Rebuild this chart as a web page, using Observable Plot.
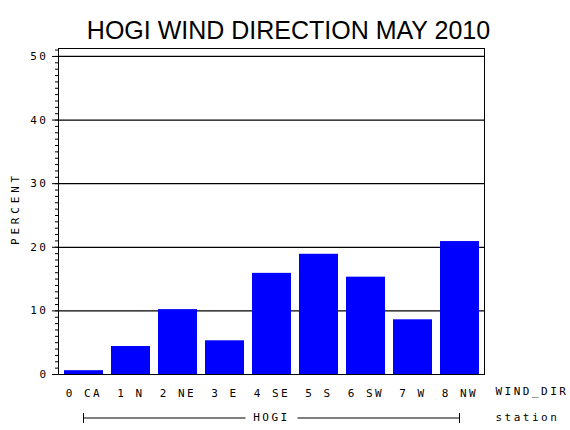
<!DOCTYPE html>
<html><head><meta charset="utf-8">
<script src="https://cdn.jsdelivr.net/npm/d3@7"></script>
<script src="https://cdn.jsdelivr.net/npm/@observablehq/plot@0.6"></script>
<style>
body{margin:0;background:#fff}
svg{display:block}
svg text{letter-spacing:2.5px}
</style>
</head><body><div id="chart"></div>
<script>
const directions = ["0 CA","1 N","2 NE","3 E","4 SE","5 S","6 SW","7 W","8 NW"];
const percents = [0.6, 4.4, 10.2, 5.3, 15.9, 18.9, 15.3, 8.6, 20.9];
const majorTicks = [0, 10, 20, 30, 40, 50];
const minorTicks = d3.range(0, 52, 1);
const gridLines = [10, 20, 30, 40, 50];
const station = "HOGI";
const titleText = "HOGI WIND DIRECTION MAY 2010";
const yLabel = "PERCENT";
const xLabel = "WIND_DIR";
const groupLabel = "station";

const data = directions.map((d, i) => ({dir: d, pct: percents[i]}));
const mono = "DejaVu Sans Mono";

const chart = Plot.plot({
  width: 570, height: 430,
  marginLeft: 58, marginRight: 86, marginTop: 48, marginBottom: 56,
  style: {fontFamily: mono, fontSize: "11px", background: "white", overflow: "visible", color: "black"},
  x: {domain: directions, paddingInner: 0.176, paddingOuter: 0.088},
  y: {domain: [0, 51.25]},
  marks: [
    Plot.ruleY(gridLines, {stroke: "black", strokeWidth: 1.3}),
    Plot.barY(data, {x: "dir", y: "pct", fill: "#0000ff"}),
    Plot.frame({stroke: "black", strokeWidth: 1}),
    Plot.axisY(minorTicks, {tickSize: 3, tickFormat: () => "", label: null, strokeOpacity: 1}),
    Plot.axisY(majorTicks, {tickSize: 6, tickPadding: 4, label: null, strokeOpacity: 1, fill: "black"}),
    Plot.axisX({tickSize: 0, tickPadding: 15, label: null, fill: "black"}),
    Plot.text([titleText], {text: d => d, frameAnchor: "top", dx: 17, dy: -27, fontSize: 25, fontFamily: "Liberation Sans", fill: "black"}),
    Plot.text([yLabel], {text: d => d, frameAnchor: "left", textAnchor: "middle", dx: -43, dy: -3, rotate: -90, fill: "black"}),
    Plot.text([xLabel], {text: d => d, frameAnchor: "bottom-right", dx: 11, dy: 20, textAnchor: "start", fill: "black"}),
    Plot.text([groupLabel], {text: d => d, frameAnchor: "bottom-right", dx: 11, dy: 46, textAnchor: "start", fill: "black"}),
    Plot.text([station], {text: d => d, frameAnchor: "bottom", dy: 46, fill: "black"})
  ]
});

// bracket line for the station group, positioned with Plot's own scales
const xs = chart.scale("x"), ys = chart.scale("y");
const x0 = xs.apply(directions[0]) + xs.bandwidth / 2;
const x1 = xs.apply(directions[directions.length - 1]) + xs.bandwidth / 2;
const yb = ys.apply(0) + 44;
const cx = (x0 + x1) / 2;
const svg = d3.select(chart);
const g = svg.append("g").attr("stroke", "black").attr("stroke-width", 1);
g.append("line").attr("x1", x0).attr("x2", cx - 26).attr("y1", yb).attr("y2", yb);
g.append("line").attr("x1", cx + 26).attr("x2", x1).attr("y1", yb).attr("y2", yb);
g.append("line").attr("x1", x0).attr("x2", x0).attr("y1", yb - 5).attr("y2", yb + 5);
g.append("line").attr("x1", x1).attr("x2", x1).attr("y1", yb - 5).attr("y2", yb + 5);

svg.selectAll("text").filter(function() { return this.textContent === titleText; }).style("letter-spacing", "0px");
svg.selectAll("text").filter(function() { return this.textContent === yLabel; }).style("letter-spacing", "3.8px");

document.getElementById("chart").appendChild(chart);
</script>
</body></html>
